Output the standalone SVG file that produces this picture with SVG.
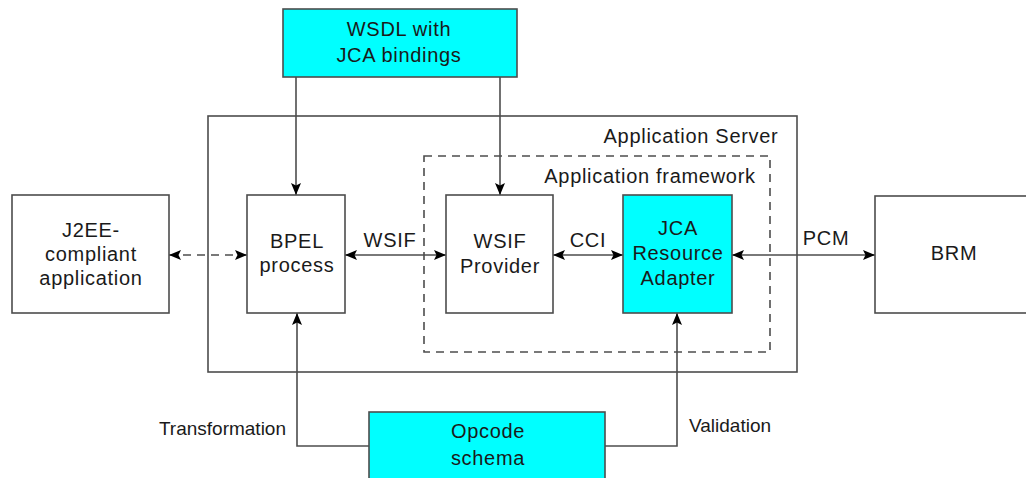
<svg xmlns="http://www.w3.org/2000/svg" width="1026" height="478" viewBox="0 0 1026 478">
<style>
.box{fill:#ffffff;stroke:#4d4d4d;stroke-width:1.6}
.cyan{fill:#00ffff;stroke:#4d4d4d;stroke-width:1.6}
.frame{fill:none;stroke:#4d4d4d;stroke-width:1.6}
.dash{fill:none;stroke:#4d4d4d;stroke-width:1.6;stroke-dasharray:8,6}
.conn{fill:none;stroke:#4d4d4d;stroke-width:1.6}
text{font-family:"Liberation Sans",Arial,sans-serif;font-size:20px;letter-spacing:0.7px;fill:#1a1a1a;text-anchor:middle}
text.lbl{font-size:19px;letter-spacing:0}
</style>
<defs>
<marker id="ah" viewBox="0 0 12 10" refX="12" refY="5" markerWidth="12" markerHeight="10" markerUnits="userSpaceOnUse" orient="auto-start-reverse">
<path d="M0,0 L12,5 L0,10 L2.5,5 z" fill="#000"/>
</marker>
</defs>
<g id="app-server">
<rect class="frame" x="208" y="116" width="589" height="256"/>
<text x="691" y="143">Application Server</text>
</g>
<g id="app-framework">
<rect class="dash" x="424" y="156" width="346" height="196"/>
<text x="650" y="183">Application framework</text>
</g>
<g id="connectors">
<path class="conn" d="M296,77 V195" marker-end="url(#ah)"/>
<path class="conn" d="M500,77 V195" marker-end="url(#ah)"/>
<path class="dash" d="M169,255 H247" marker-start="url(#ah)" marker-end="url(#ah)"/>
<path class="conn" d="M345,255 H446" marker-start="url(#ah)" marker-end="url(#ah)"/>
<path class="conn" d="M553,255 H623" marker-start="url(#ah)" marker-end="url(#ah)"/>
<path class="conn" d="M732,255 H875" marker-start="url(#ah)" marker-end="url(#ah)"/>
<path class="conn" d="M369,446 H297 V313" marker-end="url(#ah)"/>
<path class="conn" d="M605,446 H677 V313" marker-end="url(#ah)"/>
<text x="390" y="247">WSIF</text>
<text x="588" y="247">CCI</text>
<text x="826" y="245">PCM</text>
<text class="lbl" x="286" y="435" style="text-anchor:end">Transformation</text>
<text class="lbl" x="689" y="432" style="text-anchor:start">Validation</text>
</g>
<g id="wsdl">
<rect class="cyan" x="283" y="9" width="234" height="68"/>
<text x="399" y="36">WSDL with</text>
<text x="399" y="62">JCA bindings</text>
</g>
<g id="j2ee">
<rect class="box" x="12" y="195" width="157" height="118"/>
<text x="91" y="237">J2EE-</text>
<text x="91" y="261">compliant</text>
<text x="91" y="285">application</text>
</g>
<g id="bpel">
<rect class="box" x="247" y="195" width="98" height="118"/>
<text x="297" y="248">BPEL</text>
<text x="297" y="272">process</text>
</g>
<g id="wsif-provider">
<rect class="box" x="446" y="195" width="107" height="118"/>
<text x="500" y="248">WSIF</text>
<text x="500" y="273">Provider</text>
</g>
<g id="jca">
<rect class="cyan" x="623" y="195" width="109" height="118"/>
<text x="678" y="235">JCA</text>
<text x="678" y="260">Resource</text>
<text x="678" y="285">Adapter</text>
</g>
<g id="brm">
<rect class="box" x="875" y="196" width="160" height="117"/>
<text x="954" y="260">BRM</text>
</g>
<g id="opcode">
<rect class="cyan" x="369" y="412" width="236" height="80"/>
<text x="488" y="438">Opcode</text>
<text x="488" y="465">schema</text>
</g>
</svg>
